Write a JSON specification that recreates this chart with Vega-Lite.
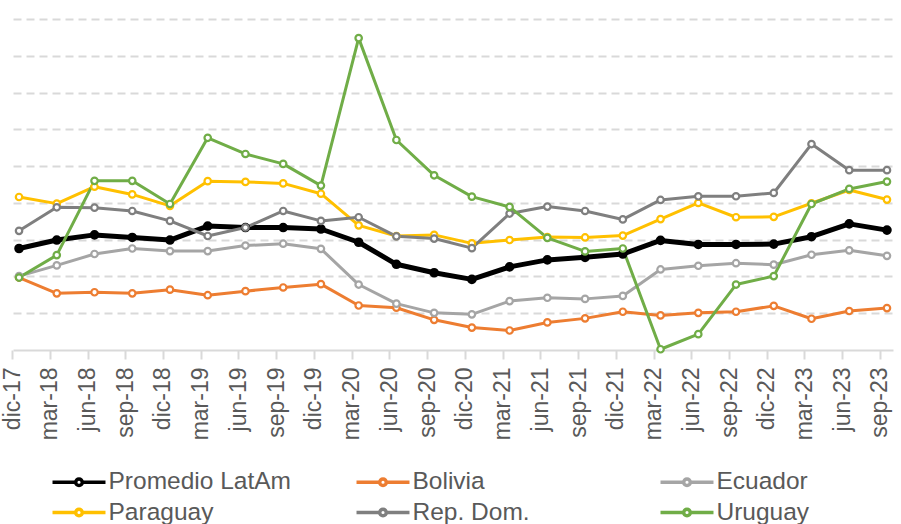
{
  "$schema": "https://vega.github.io/schema/vega-lite/v6.json",
  "autosize": "none",
  "width": 880,
  "height": 331,
  "padding": {"left": 13, "top": 19, "right": 8, "bottom": 174},
  "background": "white",
  "config": {
    "view": {"stroke": null},
    "font": "Liberation Sans"
  },
  "data": {
    "values": [
      {"d": "dic-17", "s": "Promedio LatAm", "v": 2.76},
      {"d": "mar-18", "s": "Promedio LatAm", "v": 2.99},
      {"d": "jun-18", "s": "Promedio LatAm", "v": 3.13},
      {"d": "sep-18", "s": "Promedio LatAm", "v": 3.06},
      {"d": "dic-18", "s": "Promedio LatAm", "v": 2.99},
      {"d": "mar-19", "s": "Promedio LatAm", "v": 3.37},
      {"d": "jun-19", "s": "Promedio LatAm", "v": 3.33},
      {"d": "sep-19", "s": "Promedio LatAm", "v": 3.33},
      {"d": "dic-19", "s": "Promedio LatAm", "v": 3.29},
      {"d": "mar-20", "s": "Promedio LatAm", "v": 2.93},
      {"d": "jun-20", "s": "Promedio LatAm", "v": 2.33},
      {"d": "sep-20", "s": "Promedio LatAm", "v": 2.10},
      {"d": "dic-20", "s": "Promedio LatAm", "v": 1.92},
      {"d": "mar-21", "s": "Promedio LatAm", "v": 2.26},
      {"d": "jun-21", "s": "Promedio LatAm", "v": 2.45},
      {"d": "sep-21", "s": "Promedio LatAm", "v": 2.52},
      {"d": "dic-21", "s": "Promedio LatAm", "v": 2.61},
      {"d": "mar-22", "s": "Promedio LatAm", "v": 2.98},
      {"d": "jun-22", "s": "Promedio LatAm", "v": 2.87},
      {"d": "sep-22", "s": "Promedio LatAm", "v": 2.87},
      {"d": "dic-22", "s": "Promedio LatAm", "v": 2.88},
      {"d": "mar-23", "s": "Promedio LatAm", "v": 3.08},
      {"d": "jun-23", "s": "Promedio LatAm", "v": 3.43},
      {"d": "sep-23", "s": "Promedio LatAm", "v": 3.26},

      {"d": "dic-17", "s": "Bolivia", "v": 1.97},
      {"d": "mar-18", "s": "Bolivia", "v": 1.54},
      {"d": "jun-18", "s": "Bolivia", "v": 1.57},
      {"d": "sep-18", "s": "Bolivia", "v": 1.54},
      {"d": "dic-18", "s": "Bolivia", "v": 1.64},
      {"d": "mar-19", "s": "Bolivia", "v": 1.49},
      {"d": "jun-19", "s": "Bolivia", "v": 1.60},
      {"d": "sep-19", "s": "Bolivia", "v": 1.70},
      {"d": "dic-19", "s": "Bolivia", "v": 1.79},
      {"d": "mar-20", "s": "Bolivia", "v": 1.21},
      {"d": "jun-20", "s": "Bolivia", "v": 1.15},
      {"d": "sep-20", "s": "Bolivia", "v": 0.82},
      {"d": "dic-20", "s": "Bolivia", "v": 0.61},
      {"d": "mar-21", "s": "Bolivia", "v": 0.53},
      {"d": "jun-21", "s": "Bolivia", "v": 0.75},
      {"d": "sep-21", "s": "Bolivia", "v": 0.86},
      {"d": "dic-21", "s": "Bolivia", "v": 1.04},
      {"d": "mar-22", "s": "Bolivia", "v": 0.94},
      {"d": "jun-22", "s": "Bolivia", "v": 1.01},
      {"d": "sep-22", "s": "Bolivia", "v": 1.04},
      {"d": "dic-22", "s": "Bolivia", "v": 1.20},
      {"d": "mar-23", "s": "Bolivia", "v": 0.85},
      {"d": "jun-23", "s": "Bolivia", "v": 1.06},
      {"d": "sep-23", "s": "Bolivia", "v": 1.14},

      {"d": "dic-17", "s": "Ecuador", "v": 2.01},
      {"d": "mar-18", "s": "Ecuador", "v": 2.30},
      {"d": "jun-18", "s": "Ecuador", "v": 2.61},
      {"d": "sep-18", "s": "Ecuador", "v": 2.76},
      {"d": "dic-18", "s": "Ecuador", "v": 2.69},
      {"d": "mar-19", "s": "Ecuador", "v": 2.69},
      {"d": "jun-19", "s": "Ecuador", "v": 2.84},
      {"d": "sep-19", "s": "Ecuador", "v": 2.89},
      {"d": "dic-19", "s": "Ecuador", "v": 2.75},
      {"d": "mar-20", "s": "Ecuador", "v": 1.78},
      {"d": "jun-20", "s": "Ecuador", "v": 1.26},
      {"d": "sep-20", "s": "Ecuador", "v": 1.01},
      {"d": "dic-20", "s": "Ecuador", "v": 0.97},
      {"d": "mar-21", "s": "Ecuador", "v": 1.33},
      {"d": "jun-21", "s": "Ecuador", "v": 1.42},
      {"d": "sep-21", "s": "Ecuador", "v": 1.39},
      {"d": "dic-21", "s": "Ecuador", "v": 1.47},
      {"d": "mar-22", "s": "Ecuador", "v": 2.19},
      {"d": "jun-22", "s": "Ecuador", "v": 2.29},
      {"d": "sep-22", "s": "Ecuador", "v": 2.36},
      {"d": "dic-22", "s": "Ecuador", "v": 2.32},
      {"d": "mar-23", "s": "Ecuador", "v": 2.59},
      {"d": "jun-23", "s": "Ecuador", "v": 2.71},
      {"d": "sep-23", "s": "Ecuador", "v": 2.56},

      {"d": "dic-17", "s": "Paraguay", "v": 4.16},
      {"d": "mar-18", "s": "Paraguay", "v": 3.98},
      {"d": "jun-18", "s": "Paraguay", "v": 4.44},
      {"d": "sep-18", "s": "Paraguay", "v": 4.23},
      {"d": "dic-18", "s": "Paraguay", "v": 3.92},
      {"d": "mar-19", "s": "Paraguay", "v": 4.59},
      {"d": "jun-19", "s": "Paraguay", "v": 4.57},
      {"d": "sep-19", "s": "Paraguay", "v": 4.53},
      {"d": "dic-19", "s": "Paraguay", "v": 4.25},
      {"d": "mar-20", "s": "Paraguay", "v": 3.39},
      {"d": "jun-20", "s": "Paraguay", "v": 3.10},
      {"d": "sep-20", "s": "Paraguay", "v": 3.13},
      {"d": "dic-20", "s": "Paraguay", "v": 2.90},
      {"d": "mar-21", "s": "Paraguay", "v": 2.99},
      {"d": "jun-21", "s": "Paraguay", "v": 3.07},
      {"d": "sep-21", "s": "Paraguay", "v": 3.06},
      {"d": "dic-21", "s": "Paraguay", "v": 3.11},
      {"d": "mar-22", "s": "Paraguay", "v": 3.56},
      {"d": "jun-22", "s": "Paraguay", "v": 4.00},
      {"d": "sep-22", "s": "Paraguay", "v": 3.61},
      {"d": "dic-22", "s": "Paraguay", "v": 3.62},
      {"d": "mar-23", "s": "Paraguay", "v": 3.99},
      {"d": "jun-23", "s": "Paraguay", "v": 4.35},
      {"d": "sep-23", "s": "Paraguay", "v": 4.09},

      {"d": "dic-17", "s": "Rep. Dom.", "v": 3.24},
      {"d": "mar-18", "s": "Rep. Dom.", "v": 3.88},
      {"d": "jun-18", "s": "Rep. Dom.", "v": 3.87},
      {"d": "sep-18", "s": "Rep. Dom.", "v": 3.78},
      {"d": "dic-18", "s": "Rep. Dom.", "v": 3.51},
      {"d": "mar-19", "s": "Rep. Dom.", "v": 3.10},
      {"d": "jun-19", "s": "Rep. Dom.", "v": 3.33},
      {"d": "sep-19", "s": "Rep. Dom.", "v": 3.78},
      {"d": "dic-19", "s": "Rep. Dom.", "v": 3.51},
      {"d": "mar-20", "s": "Rep. Dom.", "v": 3.61},
      {"d": "jun-20", "s": "Rep. Dom.", "v": 3.09},
      {"d": "sep-20", "s": "Rep. Dom.", "v": 3.03},
      {"d": "dic-20", "s": "Rep. Dom.", "v": 2.77},
      {"d": "mar-21", "s": "Rep. Dom.", "v": 3.71},
      {"d": "jun-21", "s": "Rep. Dom.", "v": 3.90},
      {"d": "sep-21", "s": "Rep. Dom.", "v": 3.78},
      {"d": "dic-21", "s": "Rep. Dom.", "v": 3.55},
      {"d": "mar-22", "s": "Rep. Dom.", "v": 4.08},
      {"d": "jun-22", "s": "Rep. Dom.", "v": 4.18},
      {"d": "sep-22", "s": "Rep. Dom.", "v": 4.18},
      {"d": "dic-22", "s": "Rep. Dom.", "v": 4.27},
      {"d": "mar-23", "s": "Rep. Dom.", "v": 5.60},
      {"d": "jun-23", "s": "Rep. Dom.", "v": 4.89},
      {"d": "sep-23", "s": "Rep. Dom.", "v": 4.89},

      {"d": "dic-17", "s": "Uruguay", "v": 1.97},
      {"d": "mar-18", "s": "Uruguay", "v": 2.58},
      {"d": "jun-18", "s": "Uruguay", "v": 4.60},
      {"d": "sep-18", "s": "Uruguay", "v": 4.60},
      {"d": "dic-18", "s": "Uruguay", "v": 3.97},
      {"d": "mar-19", "s": "Uruguay", "v": 5.77},
      {"d": "jun-19", "s": "Uruguay", "v": 5.33},
      {"d": "sep-19", "s": "Uruguay", "v": 5.06},
      {"d": "dic-19", "s": "Uruguay", "v": 4.47},
      {"d": "mar-20", "s": "Uruguay", "v": 8.48},
      {"d": "jun-20", "s": "Uruguay", "v": 5.71},
      {"d": "sep-20", "s": "Uruguay", "v": 4.75},
      {"d": "dic-20", "s": "Uruguay", "v": 4.17},
      {"d": "mar-21", "s": "Uruguay", "v": 3.89},
      {"d": "jun-21", "s": "Uruguay", "v": 3.05},
      {"d": "sep-21", "s": "Uruguay", "v": 2.68},
      {"d": "dic-21", "s": "Uruguay", "v": 2.76},
      {"d": "mar-22", "s": "Uruguay", "v": 0.02},
      {"d": "jun-22", "s": "Uruguay", "v": 0.43},
      {"d": "sep-22", "s": "Uruguay", "v": 1.78},
      {"d": "dic-22", "s": "Uruguay", "v": 2.01},
      {"d": "mar-23", "s": "Uruguay", "v": 3.97},
      {"d": "jun-23", "s": "Uruguay", "v": 4.38},
      {"d": "sep-23", "s": "Uruguay", "v": 4.58}
    ]
  },
  "encoding": {
    "x": {
      "field": "d",
      "type": "ordinal",
      "sort": null,
      "scale": {"type": "point", "padding": 0.16},
      "axis": {
        "title": null,
        "labelAngle": -90,
        "labelFont": "Liberation Sans",
        "labelFontSize": 23,
        "labelColor": "#595959",
        "labelPadding": 8,
        "domainColor": "#D9D9D9",
        "domainWidth": 2,
        "tickColor": "#D9D9D9",
        "tickWidth": 2,
        "tickSize": 9,
        "tickOffset": -7,
        "grid": false
      }
    },
    "y": {
      "field": "v",
      "type": "quantitative",
      "scale": {"domain": [0, 9], "nice": false, "zero": true},
      "axis": {
        "title": null,
        "labels": false,
        "ticks": false,
        "domain": false,
        "values": [1, 2, 3, 4, 5, 6, 7, 8, 9],
        "grid": true,
        "gridColor": "#D9D9D9",
        "gridWidth": 1.8,
        "gridDash": [8, 5]
      }
    }
  },
  "layer": [
    {
      "mark": {"type": "line", "strokeJoin": "round"},
      "encoding": {
        "color": {
          "field": "s",
          "type": "nominal",
          "scale": {
            "domain": ["Promedio LatAm", "Bolivia", "Ecuador", "Paraguay", "Rep. Dom.", "Uruguay"],
            "range": ["#000000", "#ED7D31", "#A5A5A5", "#FFC000", "#7F7F7F", "#70AD47"]
          },
          "legend": {
            "orient": "none",
            "legendX": 51,
            "legendY": 448,
            "direction": "horizontal",
            "columns": 3,
            "gridAlign": "all",
            "columnPadding": 58,
            "rowPadding": 3.5,
            "padding": 0,
            "title": null,
            "labelFont": "Liberation Sans",
            "labelFontSize": 24.5,
            "labelColor": "#595959",
            "labelOffset": 14.5,
            "labelLimit": 400,
            "symbolType": "M-2,0H-0.25M0.25,0H2M0.25,0A0.25,0.25,0,1,1,-0.25,0A0.25,0.25,0,1,1,0.25,0",
            "symbolSize": 702,
            "symbolStrokeWidth": 3.5,
            "symbolFillColor": "white"
          }
        },
        "strokeWidth": {
          "condition": {"test": "datum.s === 'Promedio LatAm'", "value": 5},
          "value": 3
        }
      }
    },
    {
      "mark": {"type": "point", "shape": "circle", "opacity": 1, "strokeWidth": 2.2},
      "encoding": {
        "stroke": {
          "field": "s",
          "type": "nominal",
          "legend": null,
          "scale": {
            "domain": ["Promedio LatAm", "Bolivia", "Ecuador", "Paraguay", "Rep. Dom.", "Uruguay"],
            "range": ["#000000", "#ED7D31", "#A5A5A5", "#FFC000", "#7F7F7F", "#70AD47"]
          }
        },
        "fill": {
          "condition": {"test": "datum.s === 'Promedio LatAm'", "value": "#000000"},
          "value": "#FFFFFF"
        },
        "size": {
          "condition": {"test": "datum.s === 'Promedio LatAm'", "value": 55},
          "value": 42
        }
      }
    }
  ]
}
